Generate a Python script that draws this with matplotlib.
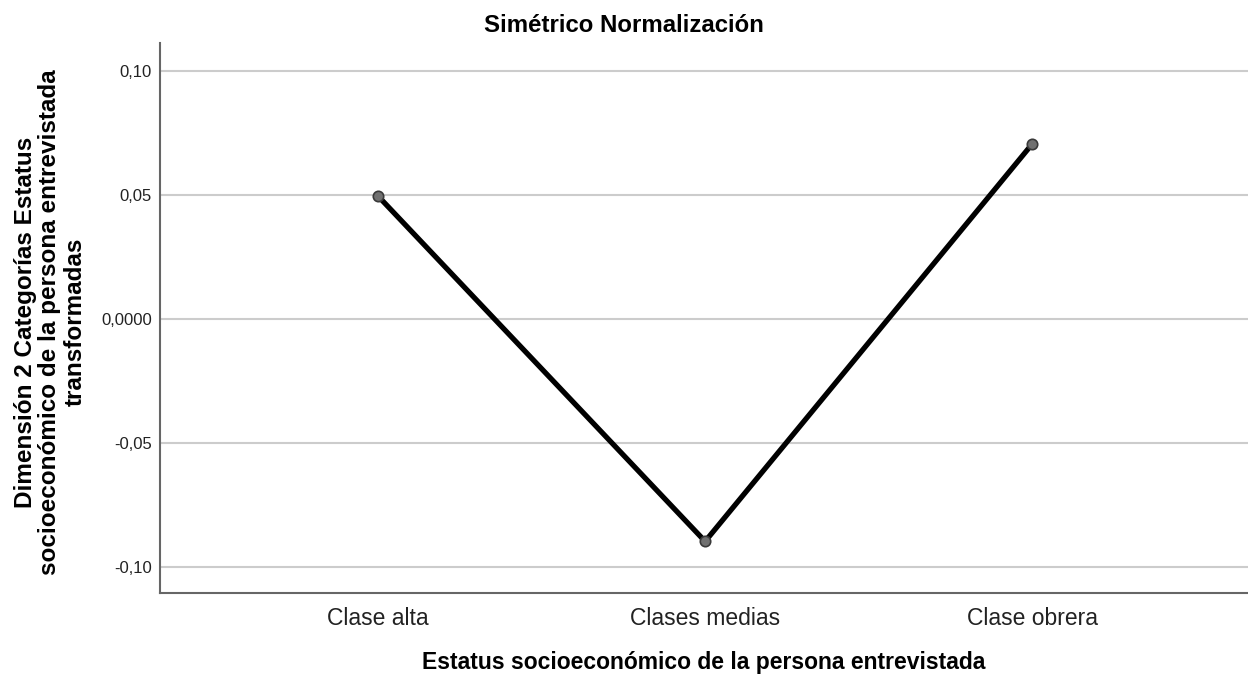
import matplotlib
matplotlib.use("Agg")
import matplotlib.pyplot as plt
from matplotlib.ticker import FixedLocator, FixedFormatter

plt.rcParams["font.family"] = ["Liberation Sans", "DejaVu Sans"]

categories = ["Clase alta", "Clases medias", "Clase obrera"]
values = [0.0495, -0.0896, 0.0705]
yticks = [-0.10, -0.05, 0.0, 0.05, 0.10]
ytick_labels = ["-0,10", "-0,05", "0,0000", "0,05", "0,10"]

fig = plt.figure(figsize=(12.48, 6.8), dpi=100)
ax = fig.add_axes([160 / 1248, 1 - 593 / 680, 1 - 160 / 1248, (593 - 43) / 680])

x = list(range(len(categories)))
ax.plot(x, values, color="black", lw=3.8, zorder=3, solid_capstyle="round")
ax.plot(x, values, ls="none", marker="o", ms=7.5, mfc="#707070", mec="#3a3a3a",
        mew=1.2, zorder=4)

ax.set_xlim(-0.667, 2.66)
ax.set_ylim(-0.1104, 0.1112)
ax.set_xticks(x)
ax.set_xticklabels(categories, fontsize=16.5, color="#222222")
ax.yaxis.set_major_locator(FixedLocator(yticks))
ax.yaxis.set_major_formatter(FixedFormatter(ytick_labels))
ax.tick_params(axis="y", length=0, pad=6, labelsize=12, labelcolor="#222222")
ax.tick_params(axis="x", length=0, pad=10)

ax.grid(axis="y", color="#cccccc", lw=1.5)
ax.set_axisbelow(True)
for s in ("top", "right"):
    ax.spines[s].set_visible(False)
for s in ("left", "bottom"):
    ax.spines[s].set_color("#666666")
    ax.spines[s].set_linewidth(1.5)

fig.suptitle("Simétrico Normalización", x=0.5, y=1 - 25 / 680, va="center",
             fontsize=17.3, fontweight="bold")
fig.text((160 + 1248) / 2 / 1248, 1 - 662 / 680,
         "Estatus socioeconómico de la persona entrevistada",
         ha="center", va="center", fontsize=16.5, fontweight="bold")
fig.text(50 / 1248, 1 - 322 / 680,
         "Dimensión 2 Categorías Estatus\nsocioeconómico de la persona entrevistada\ntransformadas",
         rotation=90, ha="center", va="center", multialignment="center",
         fontsize=17.5, fontweight="bold", linespacing=1.1)

fig.savefig("out.png", dpi=100)
